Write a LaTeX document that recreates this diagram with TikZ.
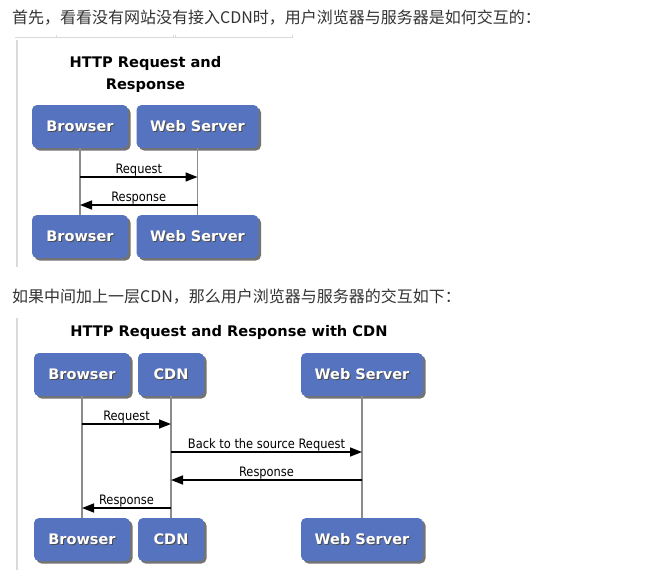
\documentclass[tikz,border=0pt]{standalone}
\usepackage{fontspec}
\setmainfont{DejaVu Sans}
\newfontfamily\cjk{Noto Sans CJK SC}
\newfontfamily\msgfont[FakeStretch=0.88]{DejaVu Sans}
\usetikzlibrary{arrows.meta, shadows}
\definecolor{boxblue}{HTML}{5673BF}
\definecolor{lifegray}{HTML}{8C8C8C}
\definecolor{railgray}{HTML}{DADADA}
\definecolor{captext}{HTML}{333333}
\newcommand{\shadowed}[1]{%
    \makebox[0pt][l]{\hspace{1pt}\raisebox{-1pt}{\color{black!70}#1}}#1}

\begin{document}
\begin{tikzpicture}[%
        x = 1pt,
        y = -1pt,
        actor/.style = {%
            rectangle,
            rounded corners = 5pt,
            fill = boxblue,
            text = white,
            minimum height = 43pt,
            inner sep = 0pt,
            font = \fontsize{14.5}{16}\selectfont\bfseries,
            drop shadow = {%
                shadow xshift = 2.5pt,
                shadow yshift = -2.5pt,
                fill = black,
                opacity = 0.55
            }
        },
        lifeline/.style = {%
            draw = lifegray,
            line width = 1.3pt
        },
        msg/.style = {%
            -{Triangle[length = 12pt, width = 9pt]},
            line width = 1.5pt
        },
        msglabel/.style = {%
            font = \msgfont\fontsize{13}{14}\selectfont,
            anchor = base,
            yshift = 3.8pt,
            inner sep = 0pt
        },
        title/.style = {%
            font = \fontsize{14.6}{22}\selectfont\bfseries,
            align = center
        },
        caption/.style = {%
            font = \cjk\fontsize{16}{18}\selectfont,
            text = captext,
            anchor = west,
            inner sep = 0pt
        },
        rail/.style = {%
            draw = railgray,
            line width = 1.5pt
        }
    ]
        \useasboundingbox[fill = white] (0, 0) rectangle (651, 582);
        \node[caption] (capA) at (12, 18) {首先，看看没有网站没有接入CDN时，用户浏览器与服务器是如何交互的：};
        \draw[rail, line width = 1pt] (15, 37.5) to (292, 37.5);
        \foreach \x in {56, 173, 175, 292}
            \draw[rail, line width = 1pt] (\x, 34.5) to (\x, 37.5);
        \draw[rail] (17, 40) to (17, 267);
        \node[title] (titleA) at (145.5, 74) {HTTP Request and\\Response};
        \node[actor, minimum width = 96pt] (browA) at (80, 126.5) {\shadowed{Browser}};
        \node[actor, minimum width = 122pt] (webA) at (197.5, 126.5) {\shadowed{Web Server}};
        \node[actor, minimum width = 96pt] (browB) at (80, 236.5) {\shadowed{Browser}};
        \node[actor, minimum width = 122pt] (webB) at (197.5, 236.5) {\shadowed{Web Server}};
        \draw[lifeline] (browA) to (browB);
        \draw[lifeline] (webA) to (webB);
        \draw[msg] (browA |- 0, 177) to node[midway, msglabel] {Request} (webA |- 0, 177);
        \draw[msg] (webA |- 0, 205) to node[midway, msglabel] {Response} (browA |- 0, 205);
        \node[caption] (capB) at (12, 297) {如果中间加上一层CDN，那么用户浏览器与服务器的交互如下：};
        \draw[rail] (17, 318) to (17, 570);
        \node[title] (titleB) at (229, 332) {HTTP Request and Response with CDN};
        \node[actor, minimum width = 96pt] (browC) at (82, 374.5) {\shadowed{Browser}};
        \node[actor, minimum width = 66pt] (cdnC) at (171, 374.5) {\shadowed{CDN}};
        \node[actor, minimum width = 122pt] (webC) at (362, 374.5) {\shadowed{Web Server}};
        \node[actor, minimum width = 96pt] (browD) at (82, 539.5) {\shadowed{Browser}};
        \node[actor, minimum width = 66pt] (cdnD) at (171, 539.5) {\shadowed{CDN}};
        \node[actor, minimum width = 122pt] (webD) at (362, 539.5) {\shadowed{Web Server}};
        \draw[lifeline] (browC) to (browD);
        \draw[lifeline] (cdnC) to (cdnD);
        \draw[lifeline] (webC) to (webD);
        \draw[msg] (browC |- 0, 424) to node[midway, msglabel] {Request} (cdnC |- 0, 424);
        \draw[msg] (cdnC |- 0, 452) to node[midway, msglabel] {Back to the source Request} (webC |- 0, 452);
        \draw[msg] (webC |- 0, 480) to node[midway, msglabel] {Response} (cdnC |- 0, 480);
        \draw[msg] (cdnC |- 0, 508) to node[midway, msglabel] {Response} (browC |- 0, 508);
    \end{tikzpicture}
\end{document}
